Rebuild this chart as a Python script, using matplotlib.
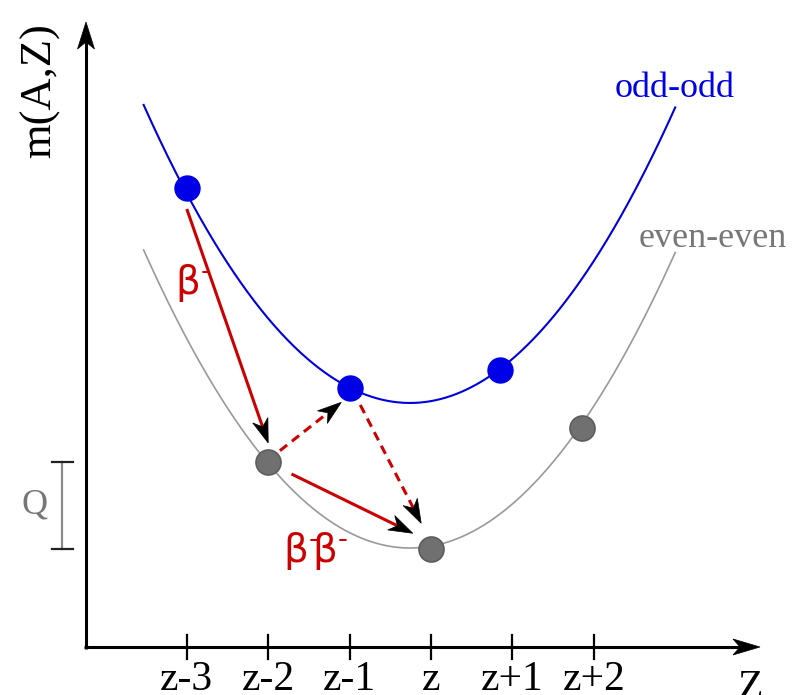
import numpy as np
import matplotlib
matplotlib.use('Agg')
import matplotlib.pyplot as plt
from matplotlib.patches import Polygon

# ---------------- data ----------------
tick_pos = [-3, -2, -1, 0, 1, 2]
tick_labels = ['z-3', 'z-2', 'z-1', 'z', 'z+1', 'z+2']

odd_x = [-3.0, -1.0, 0.848]          # odd-odd nuclei
odd_m = [5.639, 3.182, 3.403]
even_x = [-2.0, 0.0, 1.851]          # even-even nuclei
even_m = [2.273, 1.204, 2.687]

# mass parabolas: m = vertex + curv * (Z - x0)^2
par_x0 = -0.258
par_curv = 0.342
odd_vertex = 2.998
even_vertex = 1.216
par_range = (-3.53, 3.0)

# transitions: (from series, idx, to series, idx, dashed, start offset px, tip offset px)
transitions = [
    ('odd', 0, 'even', 0, False, (0, 21), (0, -19)),
    ('even', 0, 'odd', 1, True, (11.7, -11.3), (-8.3, 14.3)),
    ('odd', 1, 'even', 1, True, (10.7, 17), (-9.8, -25.7)),
    ('even', 0, 'even', 1, False, (23.3, 12), (-18.2, -15.7)),
]

# ---------------- layout ----------------
PX = 81.4  # pixels per data unit
W_PX, H_PX = 795, 695
X0_PX, Y0_PX = 431, 647
fig = plt.figure(figsize=(W_PX / 100, H_PX / 100), dpi=100)
ax = fig.add_axes([0, 0, 1, 1])
ax.set_xlim(-X0_PX / PX, (W_PX - X0_PX) / PX)
ax.set_ylim((Y0_PX - H_PX) / PX, Y0_PX / PX)
ax.axis('off')

RED = '#cc0000'
BLUE = '#0000e6'
GRAY_TXT = '#777777'


def head(tip, d, L=24, W=16, notch=7, color='black'):
    d = np.asarray(d, float)
    d = d / np.hypot(*d)
    n = np.array([-d[1], d[0]])
    tip = np.asarray(tip, float)
    L, W, notch = L / PX, W / PX, notch / PX
    pts = [tip,
           tip - L * d + W / 2 * n,
           tip - (L - notch) * d,
           tip - L * d - W / 2 * n]
    ax.add_patch(Polygon(pts, closed=True, facecolor=color, edgecolor=color,
                         lw=0.5, zorder=6))
    return tip - (L - notch - 1 / PX) * d


# axes with arrows
y_axis_x = (86 - X0_PX) / PX
y_tip = (Y0_PX - 22) / PX
x_tip = (760 - X0_PX) / PX
end = head((y_axis_x, y_tip), (0, 1), L=27, W=17, notch=7)
ax.plot([y_axis_x, y_axis_x], [-1.5 / PX, end[1]], color='black', lw=2.2,
        solid_capstyle='butt', zorder=5)
end = head((x_tip, 0), (1, 0), L=27, W=16, notch=7)
ax.plot([y_axis_x - 1.5 / PX, end[0]], [0, 0], color='black', lw=2.2,
        solid_capstyle='butt', zorder=5)

# ticks and labels
for tp, tl in zip(tick_pos, tick_labels):
    ax.plot([tp, tp], [-12 / PX, 12 / PX], color='black', lw=1.6, zorder=5)
    ax.text(tp, (Y0_PX - 690) / PX, tl, ha='center', va='baseline',
            fontsize=30, family='Liberation Serif')
ax.text((751 - X0_PX) / PX, (Y0_PX - 699) / PX, 'Z', ha='center', va='baseline',
        fontsize=30, family='Liberation Serif')
ax.text((40 - X0_PX) / PX, (Y0_PX - 91) / PX, 'm(A,Z)', rotation=90,
        ha='center', va='center', fontsize=32, family='Liberation Serif')

# parabolas
zz = np.linspace(par_range[0], par_range[1], 400)
ax.plot(zz, odd_vertex + par_curv * (zz - par_x0) ** 2, color='#0000dd', lw=1.5, zorder=2)
ax.plot(zz, even_vertex + par_curv * (zz - par_x0) ** 2, color='#999999', lw=1.2, zorder=2)

# points
ax.plot(odd_x, odd_m, 'o', ms=18, color=BLUE, mec=BLUE, zorder=4)
ax.plot(even_x, even_m, 'o', ms=18, color='#707070', mec='#5c5c5c', mew=1.2, zorder=4)

series = {'odd': (odd_x, odd_m), 'even': (even_x, even_m)}

# transitions
for s1, i1, s2, i2, dashed, o1, o2 in transitions:
    p1 = np.array([series[s1][0][i1] + o1[0] / PX, series[s1][1][i1] - o1[1] / PX])
    p2 = np.array([series[s2][0][i2] + o2[0] / PX, series[s2][1][i2] - o2[1] / PX])
    base = head(p2, p2 - p1)
    ls = (0, (3, 2)) if dashed else '-'
    ax.plot([p1[0], base[0]], [p1[1], base[1]], color=RED, lw=2.2, ls=ls,
            solid_capstyle='butt', dash_capstyle='butt', zorder=5)

# Q bracket
qx = (62 - X0_PX) / PX
q_top, q_bot = even_m[0], even_m[1]
ax.plot([qx, qx], [q_bot, q_top], color='#8a8a8a', lw=1.6, zorder=3)
for qy in (q_top, q_bot):
    ax.plot([qx - 10.5 / PX, qx + 10.5 / PX], [qy, qy], color='#222222', lw=1.6, zorder=3)
ax.text((34.5 - X0_PX) / PX, (q_top + q_bot) / 2, 'Q', ha='center', va='center',
        fontsize=26, family='Liberation Serif', color=GRAY_TXT)

# series labels
ax.text((675 - X0_PX) / PX, (Y0_PX - 97) / PX, 'odd-odd', ha='center', va='baseline',
        fontsize=26, family='Liberation Serif', color=BLUE)
ax.text((713 - X0_PX) / PX, (Y0_PX - 247) / PX, 'even-even', ha='center', va='baseline',
        fontsize=26, family='Liberation Serif', color=GRAY_TXT)

# decay labels
ax.text((175 - X0_PX) / PX, (Y0_PX - 294) / PX, r'$\mathregular{β^{‐}}$', ha='left',
        va='baseline', fontsize=28, family='DejaVu Sans', color=RED)
ax.text((283 - X0_PX) / PX, (Y0_PX - 562) / PX, r'$\mathregular{β^{‐}\!β^{‐}}$', ha='left',
        va='baseline', fontsize=28, family='DejaVu Sans', color=RED)

fig.savefig('out.png', dpi=100)
